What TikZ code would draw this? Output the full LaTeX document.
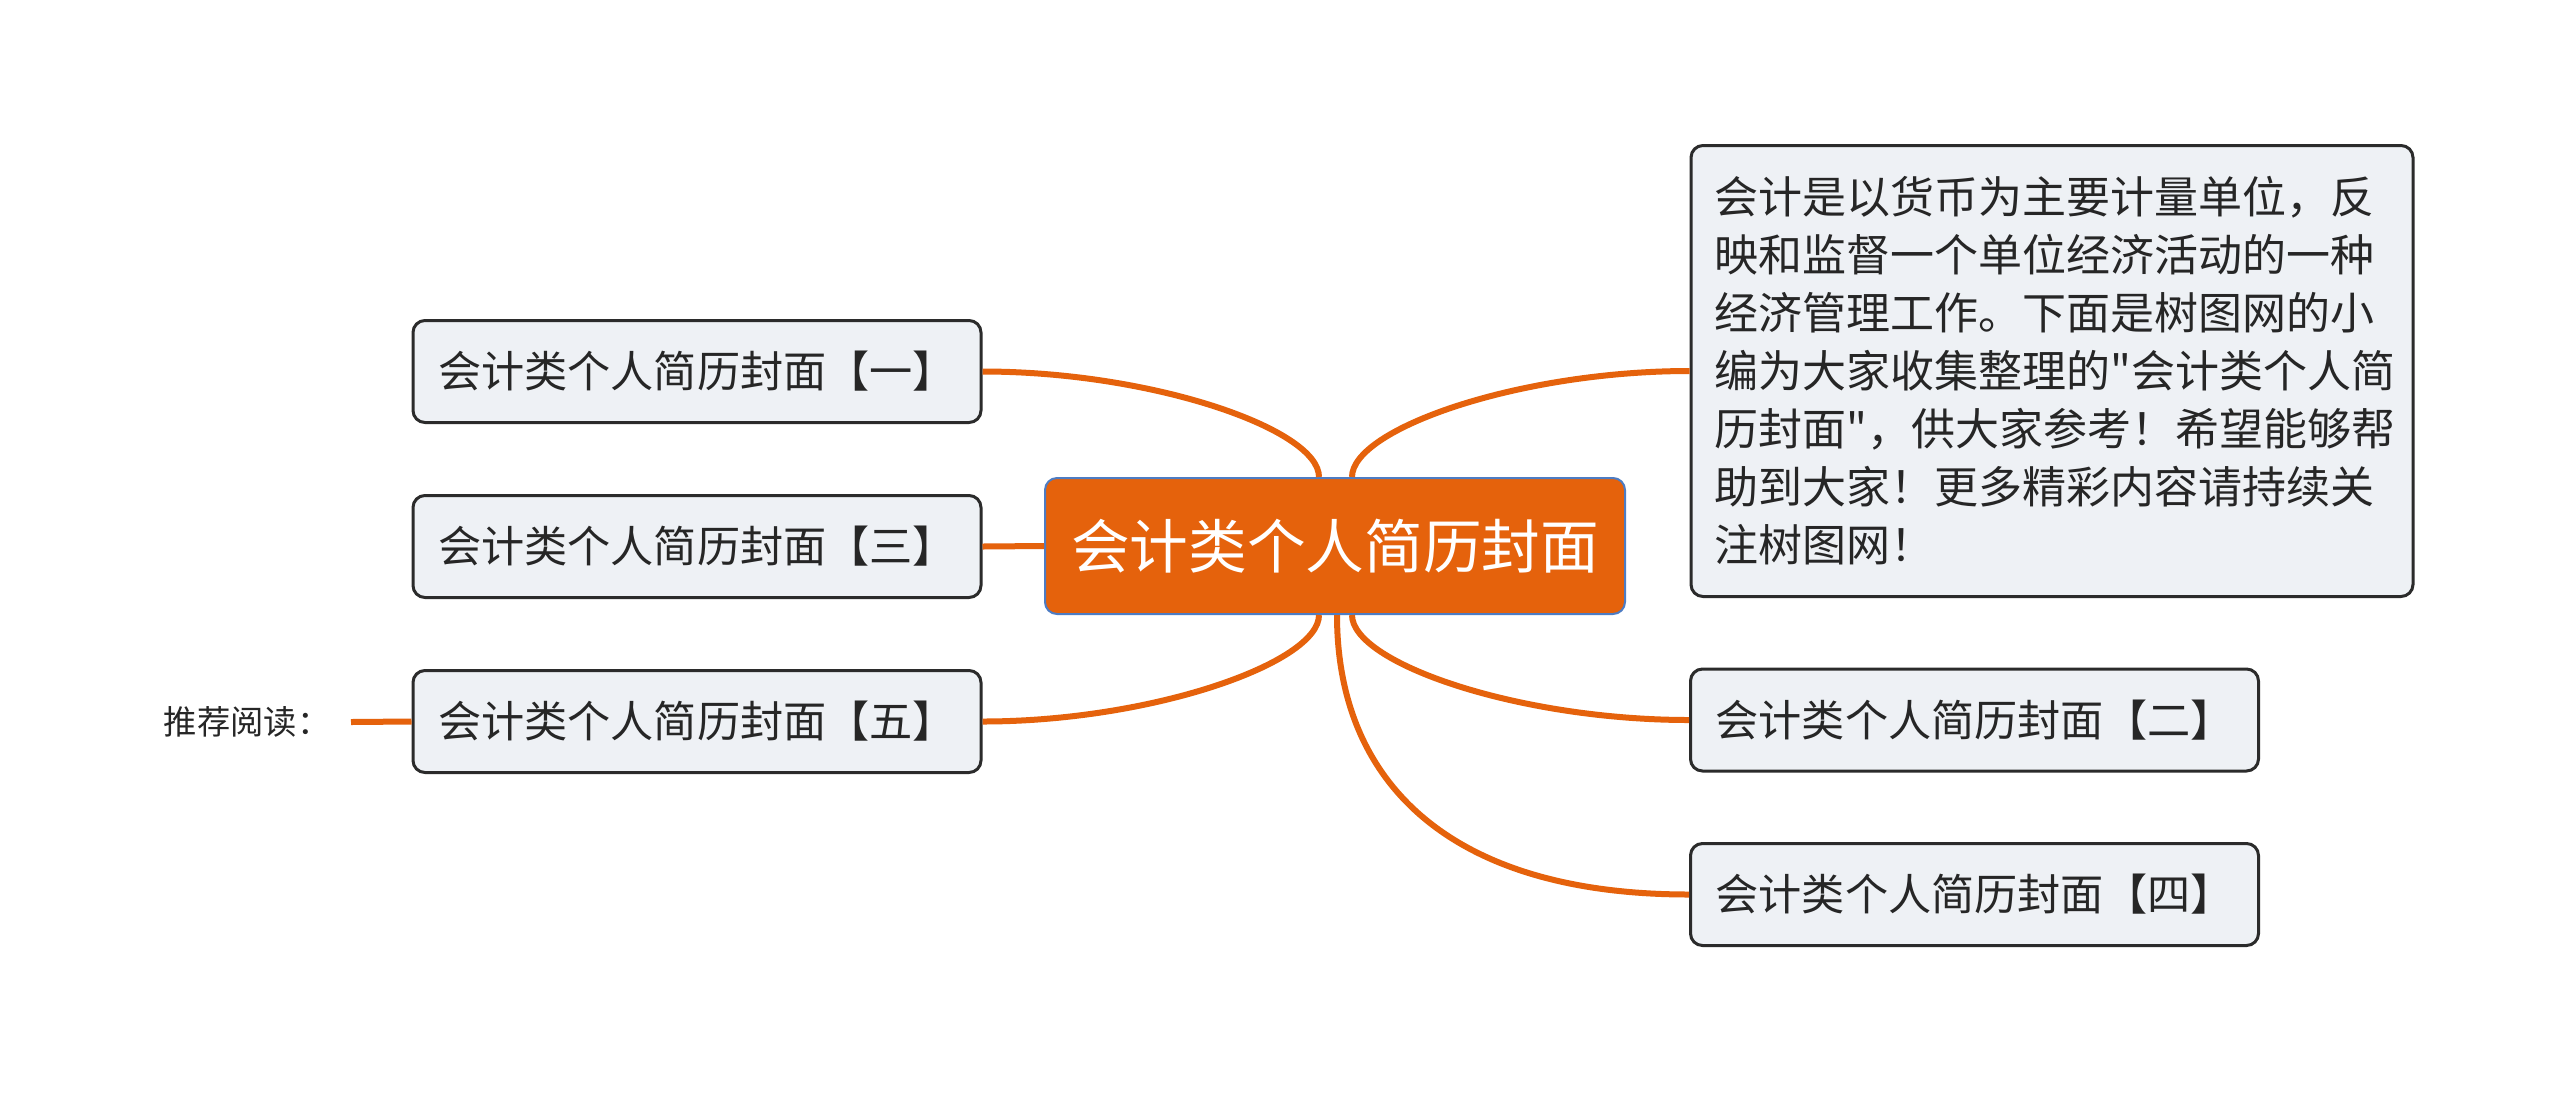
\documentclass[tikz,border=0pt]{standalone}
\usepackage{fontspec}
\newfontfamily\cjk{Noto Sans CJK SC}
\usetikzlibrary{calc}
\definecolor{brorange}{HTML}{E5620C}
\definecolor{boxfill}{HTML}{EEF1F5}
\definecolor{boxline}{HTML}{2B2B2B}
\definecolor{rootline}{HTML}{4D7CC3}
\tikzset{
  x=0.3pt, y=-0.3pt,
  conn/.style={draw=brorange, line width=1.8pt},
  leaf/.style={draw=boxline, fill=boxfill, line width=0.9pt, rounded corners=3.6pt,
    minimum width=170.4pt, minimum height=30.6pt, inner sep=0pt,
    font=\cjk\fontsize{12.95pt}{16pt}\selectfont, text=black!85},
  rootbox/.style={draw=rootline, fill=brorange, line width=0.6pt, rounded corners=3.6pt,
    minimum width=174pt, minimum height=40.8pt, inner sep=0pt,
    font=\cjk\fontsize{17.6pt}{21pt}\selectfont, text=white},
  notebox/.style={draw=boxline, fill=boxfill, line width=0.9pt, rounded corners=3.6pt,
    minimum width=216.6pt, minimum height=135.3pt, inner xsep=7pt, inner ysep=0pt,
    text width=202.6pt, align=left,
    font=\cjk\fontsize{13.2pt}{17.4pt}\selectfont, text=black!85},
  tiptext/.style={font=\cjk\fontsize{10pt}{12pt}\selectfont, text=black!85, inner sep=0pt}
}
\begin{document}
\begin{tikzpicture}
\useasboundingbox (0,0) rectangle (2560,1093);
\fill[white] (0,0) rectangle (2560,1093);

\node[rootbox] (c) at (1335,546) {会计类个人简历封面};

\node[leaf] (b1) at (697,371.5) {会计类个人简历封面【一】};
\node[leaf] (b3) at (697,546.5) {会计类个人简历封面【三】};
\node[leaf] (b5) at (697,721.5) {会计类个人简历封面【五】};

\node[notebox] (n) at (2052,371) {会计是以货币为主要计量单位，反\\映和监督一个单位经济活动的一种\\经济管理工作。下面是树图网的小\\编为大家收集整理的"会计类个人简\\历封面"，供大家参考！希望能够帮\\助到大家！更多精彩内容请持续关\\注树图网！};
\node[leaf] (b2) at (1974.5,720) {会计类个人简历封面【二】};
\node[leaf] (b4) at (1974.5,894.5) {会计类个人简历封面【四】};

\node[tiptext, anchor=west] (tip) at (163,722) {推荐阅读：};
\coordinate (tipend) at (351,722);

% connectors
\draw[conn] ($(c.north)+(-16,0)$) .. controls ($(c.north)+(-16,-48)$) and ($(b1.east)+(169,0)$) .. (b1.east);
\draw[conn] ($(c.north)+(17,0)$) .. controls ($(c.north)+(17,-48)$) and ($(n.west)+(-171,0)$) .. (n.west);
\draw[conn] (b3.east) -- (c.west);
\draw[conn] ($(c.south)+(-16,0)$) .. controls ($(c.south)+(-16,48)$) and ($(b5.east)+(169,0)$) .. (b5.east);
\draw[conn] ($(c.south)+(17,0)$) .. controls ($(c.south)+(17,48)$) and ($(b2.west)+(-171,0)$) .. (b2.west);
\draw[conn] ($(c.south)+(2,0)$) .. controls ($(c.south)+(2,166)$) and ($(b4.west)+(-241,0)$) .. (b4.west);
\draw[conn] (tipend) -- (b5.west);
\end{tikzpicture}
\end{document}
